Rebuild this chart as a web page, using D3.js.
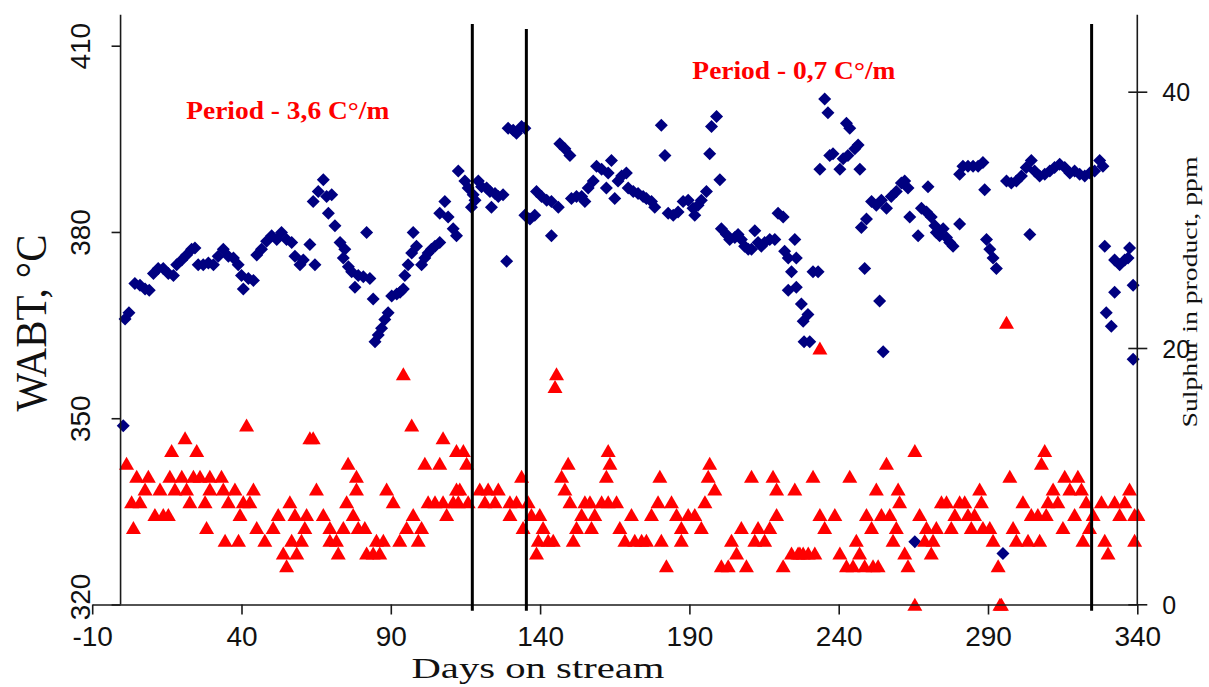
<!DOCTYPE html>
<html>
<head>
<meta charset="utf-8">
<script src="https://cdn.jsdelivr.net/npm/d3@7"></script>
<style>
  html, body { margin: 0; padding: 0; background: #fff; }
  svg { display: block; }
</style>
</head>
<body>
<svg id="chart" width="1209" height="687"></svg>
<script>
// ---------------- DATA ----------------
const xTickValues = [-10, 40, 90, 140, 190, 240, 290, 340];
const xTickLabels = ["-10", "40", "90", "140", "190", "240", "290", "340"];
const leftTickValues = [320, 350, 380, 410];
const leftTickLabels = ["320", "350", "380", "410"];
const rightTickValues = [0, 20, 40];
const rightTickLabels = ["0", "20", "40"];

const xTitle = "Days on stream";
const leftTitle = "WABT, \u00B0C";
const rightTitle = "Sulphur in product,  ppm";
const annotations = ["Period - 3,6 C\u00B0/m", "Period - 0,7 C\u00B0/m"];
const annotationDays = [21.5, 191];
const annotationWabt = [398.2, 404.6];

// period boundaries (days on stream)
const boundaryDays = [117.3, 135.4, 324.7];

// WABT, °C (blue diamonds, left axis)
const wabtDays = [0.4,1.0,2.3,4.3,6.0,7.7,9.1,10.5,12.1,13.8,15.5,17.2,18.3,20.0,21.6,23.3,24.4,25.5,27.2,28.9,30.6,32.2,33.9,35.6,37.3,38.9,40.0,40.6,42.3,44.0,45.1,46.7,48.4,50.1,51.8,53.4,55.1,56.8,57.9,59.6,60.7,62.9,64.6,64.0,65.7,67.4,68.5,70.2,69.1,71.3,73.0,74.6,74.1,75.8,76.9,78.0,79.1,80.8,83.0,84.1,81.9,84.7,85.8,86.9,88.0,89.1,90.3,92.0,93.1,94.2,94.7,95.8,97.0,97.5,98.6,100.3,101.4,102.5,103.6,104.8,106.4,106.4,108.1,109.2,110.9,112.0,112.6,
114.8,115.9,117.6,117.0,118.2,119.3,120.4,122.1,123.2,123.7,124.9,126.0,127.6,128.8,129.3,131.0,132.1,133.8,134.9,134.9,136.6,138.2,138.8,140.5,142.2,143.8,143.8,146.1,146.6,148.3,150.0,150.5,152.2,153.9,155.0,156.1,157.8,158.9,160.6,162.2,162.8,163.9,165.0,166.1,167.3,168.9,169.5,171.2,172.8,174.5,175.6,177.3,178.4,180.6,181.8,182.9,184.6,186.2,187.9,189.6,191.2,191.8,192.9,194.0,195.7,196.8,197.4,199.1,200.2,200.7,202.4,203.5,205.2,206.3,207.4,208.5,209.7,210.8,211.9,213.0,214.1,215.2,216.9,218.6,219.7,221.4,221.9,223.1,224.2,225.3,225.8,223.1,225.8,227.5,228.1,228.4,
229.7,230.3,231.4,233.1,235.3,236.4,242.6,243.7,233.7,237.0,238.1,240.4,241.5,243.1,245.4,246.5,247.1,248.7,253.7,254.9,247.6,249.3,251.0,252.6,254.3,256.0,257.6,259.3,261.0,262.1,263.2,263.8,265.5,266.6,267.7,269.4,269.9,271.0,272.2,272.7,273.8,275.0,276.1,277.2,278.3,280.5,280.5,281.6,283.3,285.0,286.7,288.3,288.9,289.5,290.6,291.7,292.8,295.0,296.2,297.8,299.5,301.2,302.8,304.5,305.6,304.0,307.3,309.0,310.7,312.3,314.0,315.7,317.4,319.0,320.7,322.4,324.1,325.7,327.4,328.5,329.1,332.4,334.1,335.8,337.4,336.9,332.4,329.6,331.3,338.6,338.6];
const wabtValues = [348.8,366.0,367.0,371.7,371.4,370.8,370.6,373.3,374.1,374.1,373.3,373.0,374.7,375.5,376.3,377.2,377.4,374.7,374.7,375.0,374.7,376.1,377.2,376.1,375.8,374.7,373.0,370.8,372.5,372.2,376.3,377.2,378.5,379.4,378.8,379.9,378.8,378.3,376.1,374.7,375.5,378.0,374.7,384.9,386.5,388.4,385.7,386.0,383.0,381.0,378.3,377.2,375.8,374.4,373.6,371.1,373.0,372.8,372.5,369.2,379.9,362.3,363.4,364.5,365.9,367.0,369.7,370.0,370.3,370.8,373.0,374.7,376.6,379.9,377.7,374.7,375.8,376.6,377.2,377.7,378.3,383.0,384.9,382.4,380.5,379.4,389.8,
388.2,387.1,386.0,384.0,385.1,388.2,387.3,387.1,386.5,384.0,386.2,385.7,386.0,375.3,396.7,396.4,395.9,397.0,396.7,382.7,382.1,382.7,386.5,385.7,385.1,384.9,379.4,384.0,394.2,393.4,392.3,385.4,385.7,385.7,384.9,387.1,388.2,390.6,390.1,387.1,389.5,391.5,385.4,388.2,389.0,389.5,387.1,386.5,386.2,385.7,385.4,384.9,384.0,397.2,392.3,383.0,382.7,383.2,384.9,385.1,383.8,382.7,384.3,385.1,386.5,392.6,397.0,398.6,388.4,380.5,379.6,378.8,379.1,379.6,378.8,377.7,377.2,377.2,380.2,378.3,377.7,378.3,378.8,378.8,383.0,382.4,376.9,375.8,373.6,378.8,375.8,370.6,371.1,368.4,365.6,362.3,
366.7,362.3,373.6,373.6,401.4,399.2,397.5,396.7,390.1,392.3,392.6,390.1,391.8,392.3,393.4,394.0,390.1,374.1,368.9,360.7,380.7,382.1,384.9,384.3,385.1,383.8,385.7,386.5,387.9,388.2,387.1,382.4,330.1,379.4,383.8,383.2,387.3,382.4,381.0,379.9,379.4,380.5,379.1,378.3,377.7,381.3,389.3,390.6,390.6,390.6,390.6,391.2,386.8,378.8,377.2,375.8,374.1,328.2,388.2,387.9,388.2,389.0,390.4,391.5,389.8,379.6,389.0,389.3,389.8,390.4,390.9,390.4,389.5,389.8,389.3,389.0,389.5,389.8,391.5,390.6,377.7,375.5,374.7,375.5,377.4,375.8,370.3,367.0,364.8,371.4,359.5];

// Sulphur in product, ppm (red triangles, right axis)
const sulphurDays = [1.5,4.9,8.8,7.7,12.7,3.2,6.0,3.8,11.0,13.8,15.5,16.6,21.1,25.0,16.0,20.0,23.9,26.1,29.4,33.3,17.7,21.6,29.4,33.9,37.8,22.7,27.8,35.6,40.6,44.0,28.3,39.5,42.8,34.5,39.0,41.7,45.1,47.8,50.6,52.3,54.0,55.1,56.8,58.5,60.1,61.2,61.8,56.2,57.9,62.9,64.0,65.1,67.4,69.6,69.6,71.8,72.4,74.1,75.7,78.5,78.5,75.2,77.4,79.1,81.3,81.9,84.1,85.2,86.3,87.5,88.6,90.8,93.0,95.3,97.5,99.2,100.3,94.2,97.0,101.4,106.4,107.5,112.0,102.5,104.8,107.5,108.7,110.9,112.0,
114.3,115.4,113.1,112.6,115.9,119.8,122.6,126.0,121.5,124.9,129.9,132.1,129.9,133.8,134.3,136.0,137.1,139.9,141.0,139.4,138.8,142.7,144.4,145.5,145.0,147.2,149.4,148.3,150.0,151.1,152.2,153.9,155.0,156.7,157.2,158.3,160.6,162.8,165.6,162.8,163.4,162.2,166.7,168.4,170.6,171.7,174.0,175.6,177.3,179.5,180.6,180.1,182.3,184.0,185.7,187.3,187.3,189.6,191.8,194.0,195.2,196.8,196.3,198.5,200.7,203.0,204.1,205.8,207.4,209.1,210.8,211.9,213.0,215.2,216.9,218.0,219.2,219.2,225.3,221.4,224.2,226.4,228.1,
227.0,229.8,232.0,231.4,233.7,235.3,238.7,240.4,242.6,243.7,244.8,245.9,247.0,248.7,251.5,253.2,249.3,251.0,252.6,254.3,256.0,257.1,258.2,259.9,260.4,259.3,262.1,263.2,265.5,265.5,267.1,268.8,269.4,271.0,271.6,272.7,274.4,276.1,277.7,278.9,280.5,282.2,283.3,284.4,285.5,287.2,287.8,288.3,290.6,291.7,293.4,294.0,294.5,297.3,298.4,299.5,301.7,303.4,304.5,306.7,307.3,309.0,307.9,309.5,310.1,311.8,313.4,315.1,315.7,317.4,319.0,320.1,321.3,321.8,322.9,324.0,325.2,328.0,329.1,330.2,332.4,334.1,335.8,337.4,339.1,339.1,340.2,
233.7,296.2];
const sulphurValues = [11,10,10,9,9,8,8,6,7,7,7,12,13,12,10,10,10,10,10,10,9,9,9,9,9,8,8,8,8,9,6,7,8,5,5,14,6,5,6,7,4,3,5,4,5,6,7,8,7,13,13,9,7,6,5,5,4,6,11,10,9,8,7,6,6,4,4,5,4,5,9,8,5,6,7,5,6,18,14,11,11,13,12,8,8,8,7,8,9,
12,11,9,8,8,9,9,9,8,8,8,8,7,10,6,8,7,7,6,5,4,5,5,18,17,10,11,9,8,5,6,7,8,8,6,7,8,8,8,12,11,10,6,5,7,5,5,5,7,8,5,10,3,8,7,6,5,7,7,6,8,11,10,9,3,3,5,4,6,3,10,5,6,5,6,10,9,7,9,3,4,4,4,
4,4,4,10,7,6,7,4,3,10,3,5,4,3,3,3,7,6,9,7,11,7,5,9,8,6,4,3,12,0,7,5,6,4,5,6,8,8,6,7,8,8,7,6,7,9,8,6,6,5,3,0,0,10,6,5,8,5,7,7,5,12,11,7,8,9,8,6,10,9,7,10,9,5,8,6,7,8,5,4,8,7,8,9,7,5,7,
20,22];

// ---------------- SCALES ----------------
const svg = d3.select("#chart");
const x = d3.scaleLinear().domain([-10, 340]).range([92.2, 1137.3]);
const yL = d3.scaleLinear().domain([320, 410]).range([604.5, 45.7]);
const yR = d3.scaleLinear().domain([0, 40]).range([604.3, 91.7]);

const axisColor = "#1a1a1a";
const sans = "'Liberation Sans', Arial, sans-serif";
const serif = "'Liberation Serif', 'Times New Roman', serif";

svg.append("rect").attr("width", 1209).attr("height", 687).attr("fill", "#fff");

// ---------------- MARKERS ----------------
const diamond = "M0,-6.5L6.5,0L0,6.5L-6.5,0Z";
const triangle = "M0,-6.5L7.5,6.5L-7.5,6.5Z";

svg.append("g").selectAll("path")
  .data(wabtDays.map((d, i) => [d, wabtValues[i]]))
  .join("path")
  .attr("d", diamond)
  .attr("transform", d => `translate(${x(d[0])},${yL(d[1])})`)
  .attr("fill", "#000080");

svg.append("g").selectAll("path")
  .data(sulphurDays.map((d, i) => [d, sulphurValues[i]]))
  .join("path")
  .attr("d", triangle)
  .attr("transform", d => `translate(${x(d[0])},${yR(d[1])})`)
  .attr("fill", "#ff0000");

// ---------------- AXES ----------------
// X axis
const gx = svg.append("g").attr("transform", `translate(0,${yL(320)})`)
  .call(d3.axisBottom(x).tickValues(xTickValues).tickSize(10).tickSizeOuter(0)
    .tickFormat((d, i) => xTickLabels[i]));
gx.select(".domain").attr("stroke", axisColor).attr("stroke-width", 1.6);
gx.selectAll(".tick line").attr("stroke", axisColor).attr("stroke-width", 1.6);
gx.selectAll(".tick text").attr("y", 41).attr("dy", null)
  .attr("font-family", sans).attr("font-size", 28).attr("fill", "#111");

// Left axis
const leftAxisX = x(-0.5);
const gl = svg.append("g").attr("transform", `translate(${leftAxisX},0)`)
  .call(d3.axisLeft(yL).tickValues(leftTickValues).tickSize(9).tickSizeOuter(0)
    .tickFormat((d, i) => leftTickLabels[i]));
gl.select(".domain").attr("d", `M0,${yL(415)}V${yL(320)}`)
  .attr("stroke", axisColor).attr("stroke-width", 1.6);
gl.selectAll(".tick line").attr("stroke", axisColor).attr("stroke-width", 1.6);
gl.selectAll(".tick text")
  .attr("x", null).attr("dy", null)
  .attr("text-anchor", "middle")
  .attr("transform", d => `translate(-31,${d === 320 ? -8 : 0}) rotate(-90)`)
  .attr("font-family", sans).attr("font-size", 28).attr("fill", "#111");

// Right axis
const gr = svg.append("g").attr("transform", `translate(${x(340)},0)`)
  .call(d3.axisRight(yR).tickValues(rightTickValues).tickSize(10).tickSizeOuter(0)
    .tickFormat((d, i) => rightTickLabels[i]));
gr.select(".domain").attr("d", `M0,${yL(415)}V${yR(0)}`)
  .attr("stroke", axisColor).attr("stroke-width", 1.6);
gr.selectAll(".tick line").attr("x1", -9).attr("x2", 10)
  .attr("stroke", axisColor).attr("stroke-width", 1.6);
gr.selectAll(".tick text").attr("x", 25).attr("dy", "0.36em")
  .attr("font-family", sans).attr("font-size", 25).attr("fill", "#111");

// ---------------- PERIOD BOUNDARY LINES ----------------
svg.append("g").selectAll("line")
  .data(boundaryDays)
  .join("line")
  .attr("x1", d => x(d)).attr("x2", d => x(d))
  .attr("y1", (d, i) => yL(i === 1 ? 412.7 : 413.5))
  .attr("y2", yL(319))
  .attr("stroke", "#000").attr("stroke-width", 3);

// ---------------- TITLES ----------------
svg.append("text")
  .attr("x", 538).attr("y", 678)
  .attr("text-anchor", "middle")
  .attr("font-family", serif).attr("font-size", 30)
  .attr("textLength", 253).attr("lengthAdjust", "spacingAndGlyphs")
  .attr("fill", "#111")
  .text(xTitle);

svg.append("text")
  .attr("transform", "translate(46,323) rotate(-90)")
  .attr("text-anchor", "middle")
  .attr("font-family", serif).attr("font-size", 44)
  .attr("textLength", 177).attr("lengthAdjust", "spacingAndGlyphs")
  .attr("fill", "#111")
  .text(leftTitle);

svg.append("text")
  .attr("transform", "translate(1197,292) rotate(-90)")
  .attr("text-anchor", "middle")
  .attr("font-family", serif).attr("font-size", 20)
  .attr("textLength", 271).attr("lengthAdjust", "spacingAndGlyphs")
  .attr("fill", "#111")
  .text(rightTitle);

// ---------------- ANNOTATIONS ----------------
svg.append("g").selectAll("text")
  .data(annotations)
  .join("text")
  .attr("x", (d, i) => x(annotationDays[i]))
  .attr("y", (d, i) => yL(annotationWabt[i]))
  .attr("font-family", serif).attr("font-size", 26).attr("font-weight", "bold")
  .attr("textLength", 203).attr("lengthAdjust", "spacingAndGlyphs")
  .attr("fill", "#ff0000")
  .text(d => d);
</script>
</body>
</html>
